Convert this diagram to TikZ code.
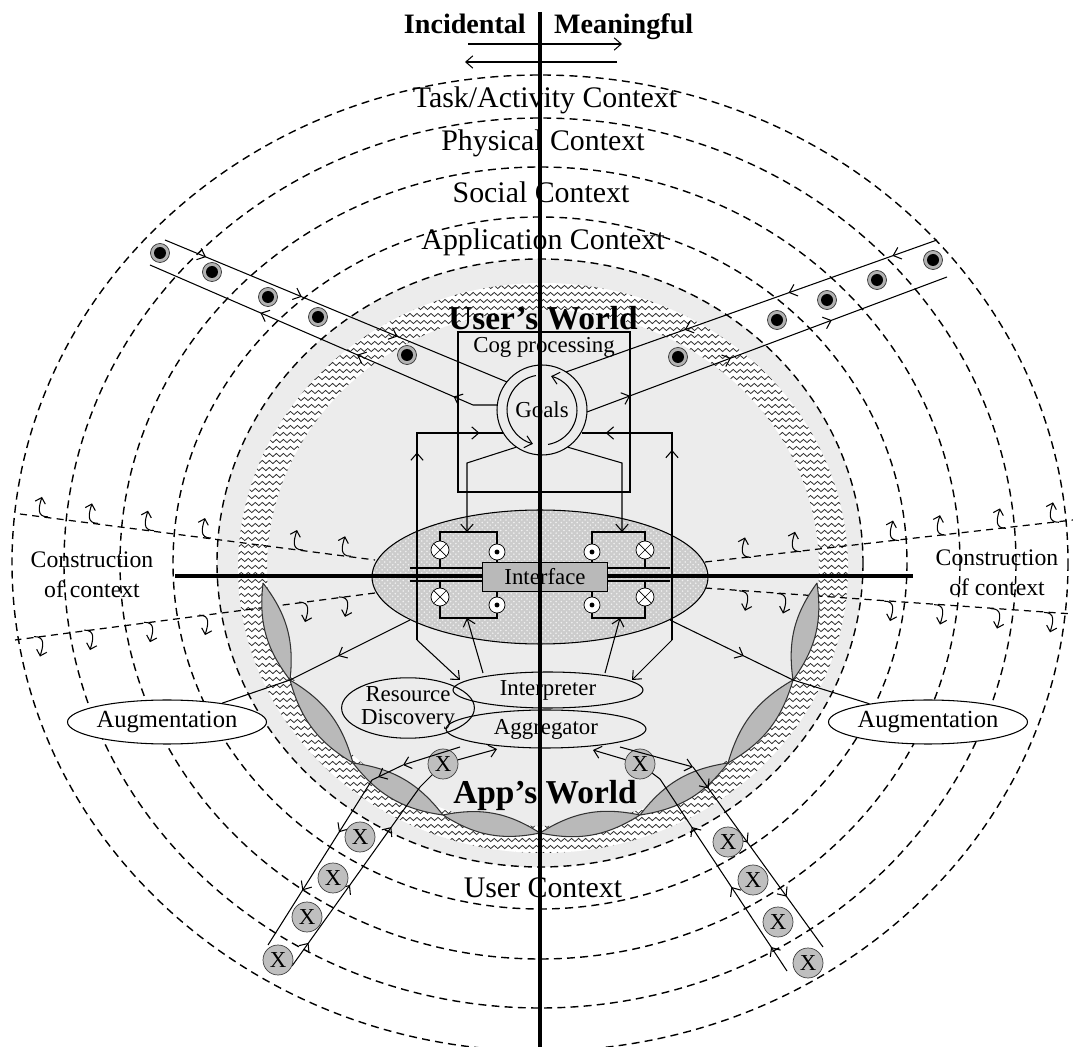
\documentclass[tikz,border=0pt]{standalone}
\usepackage{fontspec}
\setmainfont{Liberation Serif}
\usetikzlibrary{shapes.geometric,arrows.meta,decorations.pathmorphing,decorations.markings,patterns}

\tikzset{
  >={Straight Barb[length=4pt,width=7pt]},
  ctx/.style={dash pattern=on 4.5pt off 3pt, line width=0.8pt},
  cons/.style={dash pattern=on 4pt off 3pt, line width=0.7pt},
  axisline/.style={line width=1.8pt},
  wire/.style={line width=0.6pt},
  curl/.style={line width=0.6pt, -{Straight Barb[length=3pt,width=6pt]}},
  wave/.style={line width=0.45pt, gray!35!black, decorate,
    decoration={snake, amplitude=0.9pt, segment length=4pt}},
  ctxlabel/.style={font=\fontsize{17}{19}\selectfont},
  conslabel/.style={align=center, font=\fontsize{13.5}{17}\selectfont},
  world/.style={font=\bfseries\fontsize{19}{21}\selectfont},
  lens/.style={draw=gray!40!black, fill=gray!55, line width=0.6pt},
  blob/.style={ellipse, draw, line width=0.6pt, inner sep=0pt, font=\fontsize{13}{14}\selectfont},
  spot/.style={circle, draw=gray!40!black, fill=gray!60, minimum size=0.38cm, inner sep=0pt,
    path picture={\fill[black] (path picture bounding box.center) circle (0.12cm);}},
  xball/.style={circle, draw=gray!50!black, fill=gray!50, minimum size=0.6cm, inner sep=0pt,
    font=\fontsize{13}{14}\selectfont},
  lamp/.style={circle, draw, fill=white, minimum size=0.36cm, inner sep=0pt,
    path picture={\draw (path picture bounding box.north west) -- (path picture bounding box.south east)
      (path picture bounding box.north east) -- (path picture bounding box.south west);}},
  jack/.style={circle, draw, fill=white, minimum size=0.32cm, inner sep=0pt,
    path picture={\fill[black] (path picture bounding box.center) circle (1.4pt);}},
  flow/.style={postaction={decorate, decoration={markings,
    mark=between positions 0.12 and 0.95 step #1 with {\arrow{>}}}}},
  arrowat/.style={postaction={decorate, decoration={markings,
    mark=at position #1 with {\arrow{>}}}}},
}

% small hooked arrows of the construction of context
\newcommand{\curlup}[2]{\draw[curl] ({#1+6},{#2}) .. controls ({#1-6},{#2}) and ({#1-3},{#2-10}) .. ({#1},{#2-20});}
\newcommand{\curldown}[2]{\draw[curl] ({#1-6},{#2}) .. controls ({#1+6},{#2}) and ({#1+3},{#2+10}) .. ({#1},{#2+20});}

\begin{document}
\begin{tikzpicture}[x=0.02cm, y=-0.02cm]
\useasboundingbox (0,0) rectangle (1073,1047);
\fill[white] (0,0) rectangle (1073,1047);

% grey worlds and wavy band
\fill[gray!15] (540,563) ellipse [x radius=323, y radius=304];
\begin{scope}[even odd rule]
  \clip (543,568) ellipse [x radius=305, y radius=285]
        (543,568) ellipse [x radius=276, y radius=258];
  \fill[white] (220,270) rectangle (870,870);
  \foreach \wy in {280,287,...,860}
    \draw[wave] (225,\wy) -- (865,\wy);
\end{scope}

% context rings
\foreach \rx/\ry in {528/488,476/445,420/396,367/346,323/304}
  \draw[ctx] (540,563) ellipse [x radius=\rx, y radius=\ry];

\node[ctxlabel] (task) at (545,100) {Task/Activity Context};
\node[ctxlabel] (phys) at (543,143) {Physical Context};
\node[ctxlabel] (soc) at (541,192) {Social Context};
\node[ctxlabel] (appc) at (543,242) {Application Context};
\node[ctxlabel] (userc) at (543,888) {User Context};

% construction of context
\draw[cons] (20,514) -- (375,560);
\draw[cons] (375,593) -- (15,640);
\draw[cons] (705,562) -- (1073,520);
\draw[cons] (705,588) -- (1073,614);
\foreach \cx in {42,92,148,205,297,345} \curlup{\cx}{514+0.13*(\cx-20)};
\foreach \cx in {40,90,150,205,305,345} \curldown{\cx}{593+0.13*(375-\cx)};
\foreach \cx in {745,795,893,940,1000,1053} \curlup{\cx}{562-0.114*(\cx-705)};
\foreach \cx in {745,783,890,940,997,1050} \curldown{\cx}{588+0.0707*(\cx-705)};
\node[conslabel] (consl) at (92,575) {Construction\\of context};
\node[conslabel] (consr) at (997,573) {Construction\\of context};

% lenses round the app's world
\coordinate (p0) at (263,583); \coordinate (p1) at (290,680);
\coordinate (p2) at (353,763); \coordinate (p3) at (443,815);
\coordinate (p4) at (540,833);
\coordinate (q0) at (817,583); \coordinate (q1) at (793,680);
\coordinate (q2) at (728,763); \coordinate (q3) at (640,815);
\foreach \a/\b in {p0/p1,p1/p2,p2/p3,p3/p4,q0/q1,q1/q2,q2/q3,q3/p4}
  \path[lens] (\a) to[bend left=22] (\b) to[bend left=22] (\a);

% interface
\node[ellipse, draw, line width=0.6pt, minimum width=6.72cm, minimum height=2.68cm,
  preaction={fill=gray!40}, pattern=crosshatch dots, pattern color=gray!12] (uiell) at (540,577) {};
\draw[axisline] (175,576) -- (913,576);
\draw[wire] (410,568) -- (482,568) (410,581) -- (482,581)
            (607,568) -- (670,568) (607,581) -- (670,581);

% cognition
\node[draw, wire, minimum width=3.44cm, minimum height=3.2cm] (cog) at (544,412) {};
\node[anchor=north, font=\fontsize{13}{14}\selectfont] (cogl) at (cog.north) {Cog processing};
\node[circle, draw, wire, minimum size=1.8cm, inner sep=0pt, font=\fontsize{13}{14}\selectfont] (goals) at (542,410) {Goals};
\draw[wire,->] ([shift={(100:0.7cm)}]goals.center) arc[start angle=100, end angle=255, radius=0.7cm];
\draw[wire,->] ([shift={(-80:0.7cm)}]goals.center) arc[start angle=-80, end angle=75, radius=0.7cm];

% feedback loops
\draw[wire, arrowat=0.64, arrowat=0.92] (417,640) -- (417,433) -- (503,433);
\draw[wire, arrowat=0.64, arrowat=0.92] (672,640) -- (672,433) -- (582,433);
\draw[wire,->] (goals.235) -- (467,463) -- (467,532);
\draw[wire,->] (goals.-55) -- (622,463) -- (622,532);

% circuits
\node[lamp] (lmpa) at (440,550) {};  \node[jack] (jcka) at (497,552) {};
\node[lamp] (lmpb) at (440,597) {};  \node[jack] (jckb) at (497,605) {};
\node[lamp] (lmpc) at (645,550) {};  \node[jack] (jckc) at (592,552) {};
\node[lamp] (lmpd) at (645,597) {};  \node[jack] (jckd) at (592,605) {};
\draw[wire] (lmpa.north) -- (440,532) -- (497,532) -- (jcka.north);
\draw[wire] (lmpa.south) -- (440,568) (jcka.south) -- (497,563);
\draw[wire] (lmpb.north) -- (440,581) (jckb.north) -- (497,592);
\draw[wire] (lmpb.south) -- (440,618) -- (497,618) -- (jckb.south);
\draw[wire] (lmpc.north) -- (645,532) -- (592,532) -- (jckc.north);
\draw[wire] (lmpc.south) -- (645,568) (jckc.south) -- (592,563);
\draw[wire] (lmpd.north) -- (645,581) (jckd.north) -- (592,592);
\draw[wire] (lmpd.south) -- (645,618) -- (592,618) -- (jckd.south);
\node[draw, wire, fill=gray!55, minimum width=2.5cm, minimum height=0.58cm,
  font=\fontsize{13}{14}\selectfont] (iface) at (545,577) {Interface};

% application side
\node[blob, minimum width=3.8cm, minimum height=0.72cm] (interp) at (548,690) {Interpreter};
\node[blob, minimum width=4cm, minimum height=0.76cm] (aggr) at (546,729) {Aggregator};
\node[blob, minimum width=2.24cm, minimum height=1.2cm, align=center,
  font=\fontsize{13}{13}\selectfont] (resdisc) at (408,708) {Resource\\Discovery};
\draw[wire,->] (417,640) -- (460,680);
\draw[wire,->] (672,640) -- (632,680);
\draw[wire,->] (483,673) -- (467,618);
\draw[wire,->] (605,673) -- (620,618);

\node[xball] (xl) at (443,764) {X};
\node[xball] (xr) at (640,764) {X};
\draw[wire,->] (xl) -- (497,749);
\draw[wire,->] (460,747) -- (403,765);
\draw[wire,->] (xr) -- (593,750);
\draw[wire,->] (620,747) -- (693,767);

% augmentation
\node[blob, fill=white, minimum width=3.1cm, minimum height=0.88cm, font=\fontsize{14}{15}\selectfont] (augl) at (167,722) {Augmentation};
\node[blob, fill=white, minimum width=3.1cm, minimum height=0.88cm, font=\fontsize{14}{15}\selectfont] (augr) at (928,722) {Augmentation};
\draw[wire, arrowat=0.6] (410,620) -- (p1);
\draw[wire] (p1) -- (augl);
\draw[wire, arrowat=0.6] (670,620) -- (q1);
\draw[wire] (q1) -- (augr);

% lower tubes
\draw[wire, flow=0.3] (403,765) -- (372,780) -- (268,945);
\draw[wire, flow=0.3] (292,966) -- (420,787) -- (xl);
\draw[wire, flow=0.3] (693,767) -- (823,947);
\draw[wire, flow=0.3] (787,971) -- (660,779) -- (xr);
\foreach \bx/\by in {278/960,307/917,333/878,360/837,728/842,753/880,778/922,808/963}
  \node[xball] at (\bx,\by) {X};

% upper tubes
\draw[wire, flow=0.28] (165,240) -- (507,382);
\draw[wire, flow=0.28] (497,405) -- (473,405) -- (150,265);
\draw[wire, flow=0.28] (937,240) -- (566,372);
\draw[wire, flow=0.28] (587,412) -- (947,277);
\foreach \sx/\sy in {160/253,212/272,268/297,318/317,407/355,933/260,877/280,827/300,777/320,678/357}
  \node[spot] at (\sx,\sy) {};

% worlds
\node[world] (uworld) at (543,318) {User's World};
\node[world] (aworld) at (545,795) {App's World};

% axis and headline
\draw[axisline] (540,12) -- (540,1047);
\node[anchor=base east, font=\bfseries\fontsize{16}{18}\selectfont] (incid) at (532,34) {Incidental};
\node[anchor=base west, font=\bfseries\fontsize{16}{18}\selectfont] (meanf) at (548,34) {Meaningful};
\draw[wire,->] (468,44) -- (622,44);
\draw[wire,->] (617,62) -- (465,62);
\end{tikzpicture}
\end{document}
